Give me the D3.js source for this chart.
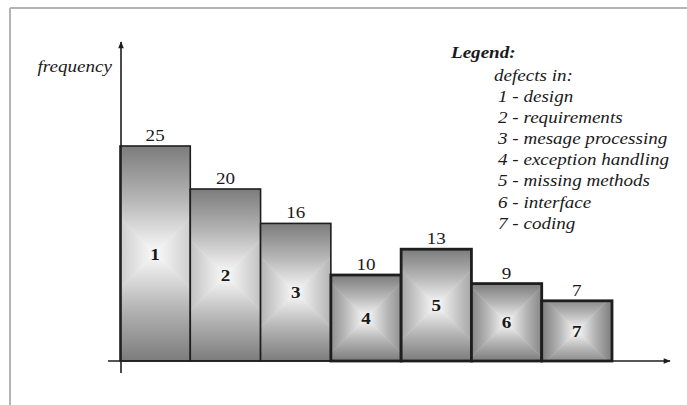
<!DOCTYPE html>
<html><head><meta charset="utf-8">
<script src="https://cdn.jsdelivr.net/npm/d3@7"></script>
<style>
html,body{margin:0;padding:0;background:#fff;}
svg{display:block;}
</style>
</head><body>
<script>
const categories = ["1","2","3","4","5","6","7"];
const values = [25, 20, 16, 10, 13, 9, 7];
const legendTitle = "Legend:";
const legendSubtitle = "defects in:";
const legendItems = ["1 - design","2 - requirements","3 - mesage processing","4 - exception handling","5 - missing methods","6 - interface","7 - coding"];
const yLabel = "frequency";

const FONT = "'Liberation Serif', 'Times New Roman', serif";
const FS = "17.5px";
const SX = 1.09;
const W = 687, H = 405;
const svg = d3.select("body").append("svg").attr("width", W).attr("height", H);
const defs = svg.append("defs");

const x = d3.scaleBand().domain(categories).range([120, 612]).padding(0);
const y = d3.scaleLinear().domain([0, 25]).range([361, 146]);

// frame lines
svg.append("line").attr("x1",10).attr("y1",8).attr("x2",W).attr("y2",8).attr("stroke","#b4b4b4").attr("stroke-width",2);
svg.append("line").attr("x1",10).attr("y1",8).attr("x2",10).attr("y2",H).attr("stroke","#b4b4b4").attr("stroke-width",2);

// square fountain gradients: edge dark -> center light
const stops = [[0,"#7c7c7c"],[0.5,"#b6b6b6"],[0.85,"#e6e6e6"],[1,"#fafafa"]];
const dirs = {top:[0,0,0,1], bottom:[0,1,0,0], left:[0,0,1,0], right:[1,0,0,0]};
Object.entries(dirs).forEach(([k,d])=>{
  const g = defs.append("linearGradient").attr("id","g-"+k)
    .attr("x1",d[0]).attr("y1",d[1]).attr("x2",d[2]).attr("y2",d[3]);
  stops.forEach(s=>g.append("stop").attr("offset",s[0]).attr("stop-color",s[1]));
});

function txt(parent, px, py){
  return parent.append("text")
    .attr("transform", "translate(" + px + "," + py + ") scale(" + SX + ",1)")
    .style("font-family", FONT).style("font-size", FS).style("fill","#1a1a1a");
}

const data = categories.map((c,i)=>({c, v:values[i], i}));
const bars = svg.append("g").selectAll("g").data(data).join("g");
bars.each(function(d){
  const g = d3.select(this);
  const x0 = x(d.c), x1 = x(d.c)+x.bandwidth(), y0 = y(d.v), y1 = y(0);
  const cx = (x0+x1)/2, cy = (y0+y1)/2;
  const L = Math.max(x1-x0, y1-y0)/2;
  const cid = "clip-"+d.i;
  defs.append("clipPath").attr("id",cid).append("rect")
    .attr("x",x0).attr("y",y0).attr("width",x1-x0).attr("height",y1-y0);
  const gg = g.append("g").attr("clip-path","url(#"+cid+")");
  const tri = [
    ["top",[[cx-L,cy-L],[cx+L,cy-L],[cx,cy]]],
    ["bottom",[[cx-L,cy+L],[cx+L,cy+L],[cx,cy]]],
    ["left",[[cx-L,cy-L],[cx-L,cy+L],[cx,cy]]],
    ["right",[[cx+L,cy-L],[cx+L,cy+L],[cx,cy]]]
  ];
  tri.forEach(([k,p])=>{
    gg.append("path").attr("d","M"+p.map(q=>q.join(",")).join("L")+"Z")
      .attr("fill","url(#g-"+k+")").attr("stroke","url(#g-"+k+")").attr("stroke-width",0.5);
  });
  g.append("rect").attr("x",x0).attr("y",y0).attr("width",x1-x0).attr("height",y1-y0)
    .attr("fill","none").attr("stroke","#1e1e1e").attr("stroke-width", d.i<3?1.6:2.8);
  txt(g, cx, cy+6).attr("text-anchor","middle").style("font-weight","bold").text(d.c);
  txt(g, cx, y0-5).attr("text-anchor","middle").text(d.v);
});

// axes
const axisColor = "#1e1e1e";
defs.append("marker").attr("id","arrow").attr("viewBox","0 0 10 10").attr("refX",9).attr("refY",5)
  .attr("markerWidth",8).attr("markerHeight",7).attr("markerUnits","userSpaceOnUse").attr("orient","auto")
  .append("path").attr("d","M0,1L10,5L0,9Z").attr("fill",axisColor);
svg.append("line").attr("x1",108).attr("y1",y(0)).attr("x2",670).attr("y2",y(0))
  .attr("stroke",axisColor).attr("stroke-width",1.6).attr("marker-end","url(#arrow)");
svg.append("line").attr("x1",121).attr("y1",373).attr("x2",121).attr("y2",42)
  .attr("stroke",axisColor).attr("stroke-width",1.6).attr("marker-end","url(#arrow)");

txt(svg, 112, 72).attr("text-anchor","end").style("font-style","italic").text(yLabel);

// legend
const lg = svg.append("g");
txt(lg, 451, 58).style("font-style","italic").style("font-weight","bold").text(legendTitle);
txt(lg, 494, 81).style("font-style","italic").text(legendSubtitle);
legendItems.forEach((t,i)=>{
  txt(lg, 498, 102 + i*21.1).style("font-style","italic").text(t);
});
</script>
</body></html>
